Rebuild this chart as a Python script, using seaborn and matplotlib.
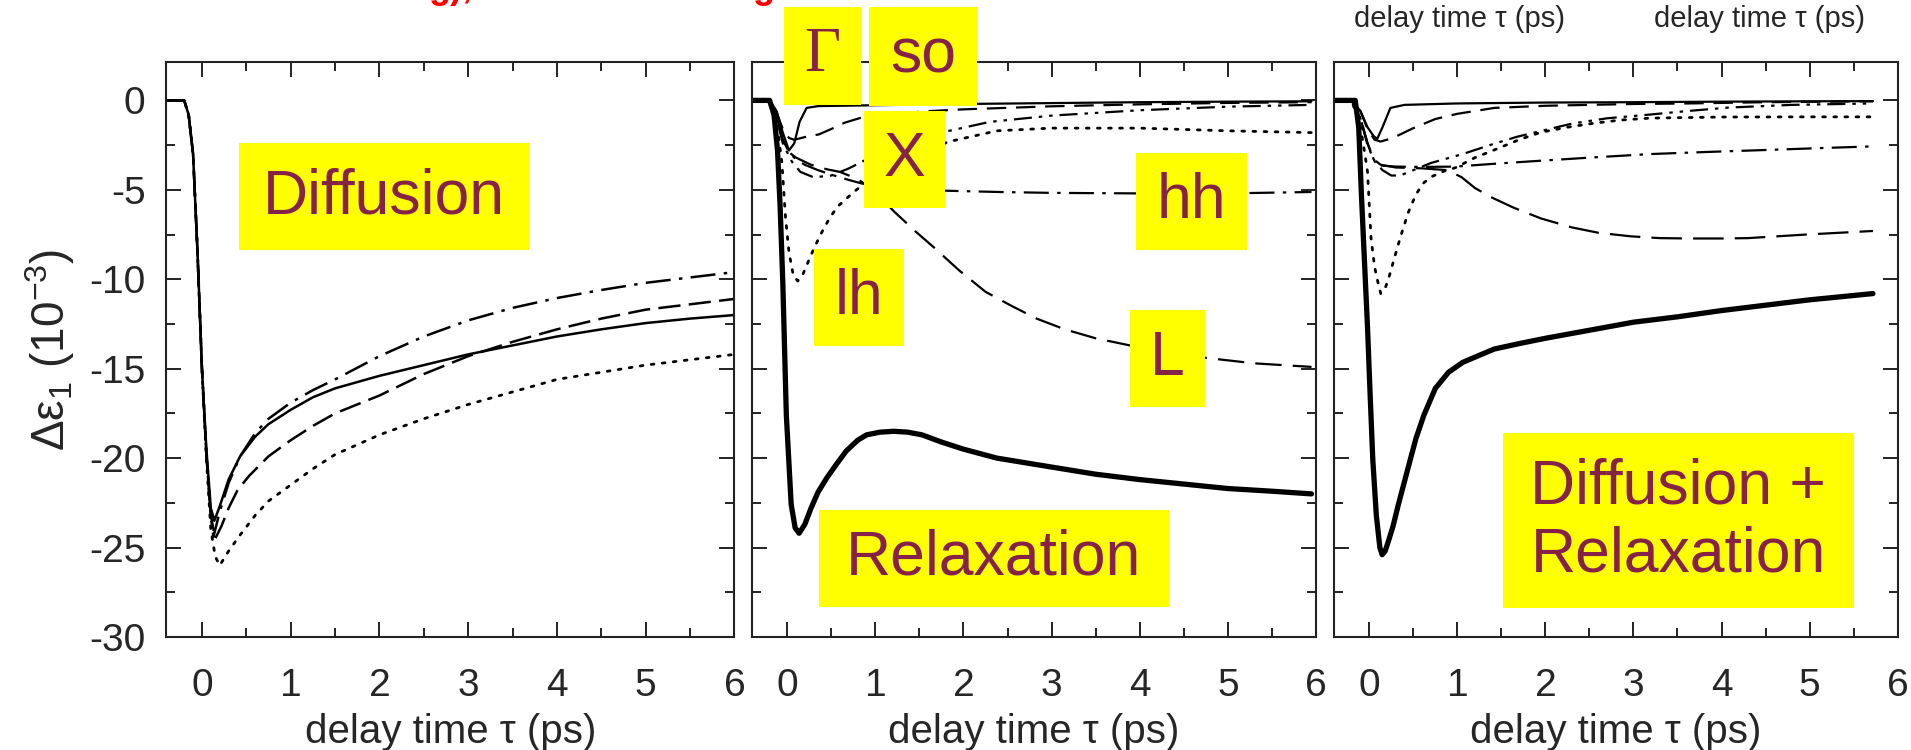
import matplotlib
matplotlib.use("Agg")
import matplotlib.pyplot as plt
import seaborn as sns
from matplotlib.patches import Rectangle
from matplotlib.ticker import MultipleLocator

# ---------------- data ----------------
XLIM = (-0.4, 6.0)
YLIM = (-30.0, 2.15)
x_ticks = [0, 1, 2, 3, 4, 5, 6]
y_ticks = [0, -5, -10, -15, -20, -25, -30]

# Panel 1: Diffusion
p1_solid_x = [-0.4, -0.2, -0.15, -0.1, -0.05, 0.0, 0.05, 0.1, 0.14, 0.2, 0.3, 0.43, 0.6, 0.75, 1.0, 1.25, 1.5, 2.0, 2.5, 3.0, 3.5, 4.0, 4.5, 5.0, 5.5, 6.0]
p1_solid_y = [0, 0, -0.8, -3.0, -8.5, -15.0, -19.5, -22.8, -23.5, -22.7, -21.2, -19.9, -18.8, -18.1, -17.3, -16.6, -16.1, -15.4, -14.8, -14.2, -13.7, -13.2, -12.8, -12.45, -12.2, -12.0]
p1_dash_x = [-0.4, -0.2, -0.15, -0.1, -0.05, 0.0, 0.05, 0.1, 0.15, 0.22, 0.3, 0.4, 0.53, 0.75, 1.0, 1.25, 1.5, 2.0, 2.5, 3.0, 3.5, 4.0, 4.5, 5.0, 5.5, 6.0]
p1_dash_y = [0, 0, -0.8, -3.0, -8.5, -15.0, -19.8, -23.2, -24.5, -23.8, -22.8, -21.8, -21.0, -19.9, -19.0, -18.2, -17.5, -16.5, -15.3, -14.3, -13.5, -12.8, -12.2, -11.7, -11.4, -11.1]
p1_dashdot_x = [-0.4, -0.2, -0.15, -0.1, -0.05, 0.0, 0.05, 0.1, 0.13, 0.2, 0.3, 0.43, 0.6, 0.75, 1.0, 1.25, 1.5, 2.0, 2.5, 3.0, 3.5, 4.0, 4.5, 5.0, 5.5, 6.0]
p1_dashdot_y = [0, 0, -0.8, -3.0, -8.5, -15.0, -19.8, -23.3, -24.4, -23.0, -21.4, -19.9, -18.6, -17.8, -16.9, -16.2, -15.6, -14.3, -13.2, -12.3, -11.6, -11.05, -10.6, -10.2, -9.9, -9.6]
p1_dot_x = [-0.4, -0.2, -0.15, -0.1, -0.05, 0.0, 0.05, 0.1, 0.15, 0.2, 0.3, 0.43, 0.6, 0.75, 1.0, 1.25, 1.5, 2.0, 2.5, 3.0, 3.5, 4.0, 4.5, 5.0, 5.5, 6.0]
p1_dot_y = [0, 0, -0.8, -3.0, -8.5, -15.0, -20.0, -24.0, -25.5, -26.0, -25.2, -24.3, -23.2, -22.4, -21.5, -20.6, -19.8, -18.7, -17.8, -17.0, -16.3, -15.6, -15.2, -14.8, -14.5, -14.2]

# Panel 2: Relaxation
p2_total_x = [-0.4, -0.2, -0.15, -0.11, -0.08, -0.05, -0.01, 0.045, 0.09, 0.135, 0.2, 0.27, 0.35, 0.45, 0.55, 0.67, 0.8, 0.9, 1.05, 1.21, 1.37, 1.53, 1.75, 2.0, 2.38, 3.0, 3.5, 4.0, 4.5, 5.0, 5.5, 5.95]
p2_total_y = [0, 0, -0.8, -2.8, -6.0, -10.2, -17.6, -22.6, -23.9, -24.2, -23.7, -22.8, -21.9, -21.1, -20.4, -19.6, -19.0, -18.7, -18.55, -18.5, -18.55, -18.7, -19.1, -19.5, -20.0, -20.5, -20.9, -21.2, -21.45, -21.7, -21.85, -22.0]
p2_gamma_x = [-0.4, -0.2, -0.12, -0.05, 0.02, 0.08, 0.14, 0.22, 0.35, 0.6, 1.0, 2.0, 3.0, 4.0, 5.0, 5.95]
p2_gamma_y = [0, 0, -0.6, -1.8, -2.8, -2.4, -1.2, -0.42, -0.32, -0.3, -0.27, -0.2, -0.15, -0.1, -0.07, -0.05]
p2_so_x = [-0.4, -0.2, -0.12, -0.05, 0.02, 0.08, 0.2, 0.36, 0.5, 0.65, 0.85, 1.2, 1.6, 2.0, 3.0, 4.0, 5.0, 5.95]
p2_so_y = [0, 0, -0.7, -1.6, -2.1, -2.2, -2.05, -1.9, -1.6, -1.25, -0.95, -0.75, -0.6, -0.5, -0.33, -0.22, -0.14, -0.1]
p2_x_x = [-0.4, -0.2, -0.12, -0.05, 0.05, 0.15, 0.3, 0.5, 0.7, 0.9, 1.2, 1.5, 1.84, 2.3, 3.0, 4.0, 5.0, 5.95]
p2_x_y = [0, 0, -1.0, -2.4, -3.4, -4.0, -4.3, -4.2, -3.8, -3.3, -2.6, -2.1, -1.7, -1.2, -0.85, -0.55, -0.35, -0.25]
p2_lh_x = [-0.4, -0.2, -0.12, -0.06, -0.02, 0.02, 0.07, 0.12, 0.18, 0.24, 0.31, 0.4, 0.49, 0.58, 0.67, 0.76, 0.85, 1.2, 1.5, 1.84, 2.38, 3.0, 4.0, 5.0, 5.95]
p2_lh_y = [0, 0, -1.2, -3.5, -6.5, -8.5, -9.8, -10.1, -9.7, -9.0, -8.2, -7.3, -6.5, -5.9, -5.5, -5.1, -4.75, -3.6, -2.9, -2.3, -1.7, -1.55, -1.55, -1.7, -1.8]
p2_hh_x = [-0.4, -0.2, -0.12, -0.05, 0.02, 0.1, 0.2, 0.35, 0.5, 0.7, 0.85, 1.2, 1.8, 2.4, 3.0, 4.0, 5.0, 5.95]
p2_hh_y = [0, 0, -0.9, -2.2, -2.9, -3.3, -3.6, -3.9, -4.15, -4.45, -4.65, -4.9, -5.05, -5.12, -5.17, -5.2, -5.2, -5.12]
p2_L_x = [-0.4, -0.2, -0.12, -0.05, 0.02, 0.1, 0.27, 0.45, 0.6, 0.8, 1.0, 1.21, 1.45, 1.66, 1.95, 2.25, 2.55, 2.83, 3.15, 3.5, 3.89, 4.3, 4.76, 5.3, 5.95]
p2_L_y = [0, 0, -0.9, -2.2, -2.9, -3.2, -3.6, -3.85, -4.0, -4.4, -5.1, -6.2, -7.3, -8.2, -9.5, -10.7, -11.5, -12.2, -12.8, -13.3, -13.7, -14.05, -14.4, -14.7, -14.9]

# Panel 3: Diffusion + Relaxation
p3_total_x = [-0.4, -0.16, -0.12, -0.09, -0.05, -0.02, 0.01, 0.04, 0.08, 0.12, 0.146, 0.18, 0.22, 0.27, 0.33, 0.4, 0.47, 0.53, 0.62, 0.75, 0.9, 1.06, 1.25, 1.42, 1.7, 2.0, 2.5, 3.0, 3.5, 4.0, 4.5, 5.0, 5.72]
p3_total_y = [0, 0, -1.5, -5.2, -9.5, -12.7, -16.5, -20.1, -23.2, -25.0, -25.4, -25.2, -24.6, -23.8, -22.6, -21.3, -20.0, -18.9, -17.6, -16.1, -15.2, -14.65, -14.25, -13.9, -13.6, -13.3, -12.85, -12.4, -12.1, -11.75, -11.45, -11.15, -10.8]
p3_gamma_x = [-0.4, -0.2, -0.1, -0.02, 0.05, 0.09, 0.15, 0.24, 0.4, 1.0, 2.0, 3.0, 4.0, 5.0, 5.72]
p3_gamma_y = [0, 0, -0.6, -1.5, -2.0, -2.15, -1.5, -0.42, -0.25, -0.17, -0.12, -0.1, -0.07, -0.05, -0.04]
p3_so_x = [-0.4, -0.2, -0.1, -0.02, 0.06, 0.13, 0.2, 0.31, 0.5, 0.75, 1.0, 1.42, 2.0, 3.0, 3.63, 4.5, 5.72]
p3_so_y = [0, 0, -0.6, -1.6, -2.2, -2.3, -2.2, -2.0, -1.55, -1.04, -0.75, -0.42, -0.3, -0.2, -0.17, -0.1, -0.05]
p3_x_x = [-0.4, -0.2, -0.1, -0.02, 0.06, 0.15, 0.25, 0.35, 0.5, 0.7, 1.06, 1.4, 1.68, 2.0, 2.3, 2.7, 3.19, 3.6, 4.08, 4.8, 5.72]
p3_x_y = [0, 0, -1.0, -2.5, -3.4, -3.9, -4.2, -4.2, -3.9, -3.5, -3.0, -2.45, -2.03, -1.65, -1.3, -1.0, -0.79, -0.6, -0.4, -0.25, -0.17]
p3_lh_x = [-0.4, -0.2, -0.1, -0.05, -0.02, 0.02, 0.06, 0.09, 0.13, 0.18, 0.22, 0.28, 0.35, 0.44, 0.53, 0.62, 0.71, 0.85, 0.98, 1.2, 1.42, 1.7, 1.95, 2.25, 2.53, 2.85, 3.19, 4.0, 5.0, 5.72]
p3_lh_y = [0, 0, -1.5, -3.0, -4.0, -7.7, -9.3, -10.0, -10.8, -10.5, -9.95, -8.9, -7.7, -6.3, -5.25, -4.6, -4.26, -3.95, -3.76, -3.2, -2.77, -2.2, -1.78, -1.5, -1.29, -1.1, -0.99, -0.93, -0.92, -0.92]
p3_hh_x = [-0.4, -0.2, -0.1, -0.02, 0.05, 0.13, 0.3, 0.6, 0.98, 1.4, 1.86, 2.5, 3.19, 3.85, 4.52, 5.1, 5.72]
p3_hh_y = [0, 0, -1.0, -2.4, -3.3, -3.64, -3.7, -3.72, -3.7, -3.55, -3.4, -3.2, -3.0, -2.88, -2.77, -2.67, -2.57]
p3_L_x = [-0.4, -0.2, -0.1, -0.02, 0.05, 0.13, 0.3, 0.6, 0.89, 1.05, 1.2, 1.4, 1.64, 1.95, 2.3, 2.6, 2.97, 3.3, 3.63, 4.0, 4.3, 4.96, 5.72]
p3_L_y = [0, 0, -1.0, -2.4, -3.3, -3.6, -3.75, -3.8, -3.9, -4.3, -4.9, -5.45, -6.0, -6.6, -7.1, -7.4, -7.6, -7.7, -7.72, -7.72, -7.7, -7.5, -7.3]

# Annotation labels: (text, x0, x1, y0, y1) in data units of each panel
p1_labels = [("Diffusion", 0.42, 3.68, -8.39, -2.36)]
p2_labels = [("Γ", -0.04, 0.84, -0.28, 5.25), ("so", 0.93, 2.15, -0.30, 5.25),
             ("X", 0.87, 1.79, -5.99, -0.59), ("hh", 3.96, 5.22, -8.34, -2.92),
             ("lh", 0.30, 1.32, -13.71, -8.29), ("L", 3.89, 4.74, -17.13, -11.73),
             ("Relaxation", 0.355, 4.33, -28.3, -22.9)]
p3_labels = [("Diffusion +\nRelaxation", 1.52, 5.50, -28.4, -18.6)]

xlabel_text = "delay time τ (ps)"
ylabel_text = r"$\mathrm{\Delta\varepsilon_1}$ (10$^{\mathrm{-3}}$)"

# ---------------- styling ----------------
sns.set_style("ticks")
plt.rcParams["font.family"] = ["Liberation Sans", "DejaVu Sans"]
plt.rcParams["axes.unicode_minus"] = False
plt.rcParams["lines.scale_dashes"] = False
plt.rcParams["mathtext.fontset"] = "custom"
plt.rcParams["mathtext.rm"] = "Liberation Sans"
plt.rcParams["mathtext.it"] = "Liberation Sans:italic"
plt.rcParams["mathtext.bf"] = "Liberation Sans:bold"

YELLOW = "#FFFF00"
MAROON = "#862248"

SOLID = "-"
LONGDASH = (0, (19, 8))
MEDDASH = (0, (14, 7))
DASHDOT = (0, (18, 6, 2.5, 6))
DASHDOTDOT = (0, (13, 5, 2.5, 5, 2.5, 5))
DOTTED = (0, (2, 6))

fig = plt.figure(figsize=(19.11, 7.5), dpi=100)
bottom, height = 0.1507, 0.7667
axes = [fig.add_axes([0.0871, bottom, 0.2972, height]),
        fig.add_axes([0.3935, bottom, 0.2951, height]),
        fig.add_axes([0.6981, bottom, 0.2949, height])]


def draw(ax, x, y, ls, lw=1.6):
    sns.lineplot(x=x, y=y, ax=ax, color="black", linewidth=lw, linestyle=ls,
                 estimator=None, sort=False, errorbar=None,
                 dash_capstyle="round" if ls == DOTTED else "butt")


def label_boxes(ax, labels):
    for text, x0, x1, y0, y1 in labels:
        ax.add_patch(Rectangle((x0, y0), x1 - x0, y1 - y0, facecolor=YELLOW,
                               edgecolor="none", zorder=5, clip_on=False))
        fam = ["Liberation Serif", "DejaVu Serif"] if text == "Γ" else ["Liberation Sans", "DejaVu Sans"]
        ax.text((x0 + x1) / 2, (y0 + y1) / 2, text, color=MAROON, fontsize=45,
                family=fam, ha="center", va="center", zorder=6, clip_on=False,
                linespacing=1.2)


# Panel 1
ax = axes[0]
draw(ax, p1_dashdot_x, p1_dashdot_y, DASHDOT, 1.8)
draw(ax, p1_dash_x, p1_dash_y, (0, (16, 6)), 1.8)
draw(ax, p1_dot_x, p1_dot_y, DOTTED, 2.0)
draw(ax, p1_solid_x, p1_solid_y, SOLID, 1.8)
label_boxes(ax, p1_labels)

# Panel 2
ax = axes[1]
draw(ax, p2_gamma_x, p2_gamma_y, SOLID, 1.6)
draw(ax, p2_so_x, p2_so_y, MEDDASH, 1.6)
draw(ax, p2_x_x, p2_x_y, DASHDOTDOT, 1.6)
draw(ax, p2_lh_x, p2_lh_y, DOTTED, 2.0)
draw(ax, p2_hh_x, p2_hh_y, DASHDOT, 1.6)
draw(ax, p2_L_x, p2_L_y, LONGDASH, 1.6)
draw(ax, p2_total_x, p2_total_y, SOLID, 3.8)
label_boxes(ax, p2_labels)

# Panel 3
ax = axes[2]
draw(ax, p3_gamma_x, p3_gamma_y, SOLID, 1.6)
draw(ax, p3_so_x, p3_so_y, MEDDASH, 1.6)
draw(ax, p3_x_x, p3_x_y, DASHDOTDOT, 1.6)
draw(ax, p3_lh_x, p3_lh_y, DOTTED, 2.0)
draw(ax, p3_hh_x, p3_hh_y, DASHDOT, 1.6)
draw(ax, p3_L_x, p3_L_y, (0, (22, 8)), 1.6)
draw(ax, p3_total_x, p3_total_y, SOLID, 3.8)
label_boxes(ax, p3_labels)

for i, ax in enumerate(axes):
    ax.set_xlim(*XLIM)
    ax.set_ylim(*YLIM)
    ax.set_xticks(x_ticks)
    ax.set_yticks(y_ticks)
    ax.xaxis.set_minor_locator(MultipleLocator(0.5))
    ax.yaxis.set_minor_locator(MultipleLocator(2.5))
    ax.tick_params(which="both", direction="in", top=True, right=True,
                   color="#222222", width=1.4)
    ax.tick_params(which="major", length=11)
    ax.tick_params(which="minor", length=6.5)
    ax.tick_params(axis="x", which="major", labelsize=28, pad=22)
    ax.tick_params(axis="y", which="major", labelsize=28, pad=15)
    for sp in ax.spines.values():
        sp.set_linewidth(1.5)
        sp.set_color("#222222")
        sp.set_visible(True)
    ax.set_xlabel(xlabel_text, fontsize=29, labelpad=7)
    if i == 0:
        ax.set_ylabel(ylabel_text, fontsize=33, labelpad=9)
    else:
        ax.set_ylabel("")
        ax.tick_params(axis="y", labelleft=False)
    ax.set_facecolor("white")

# Fragments of surrounding content visible at the top of the crop
fig.text(1460 / 1911, 1 - 19 / 750, xlabel_text, fontsize=21, ha="center", va="center")
fig.text(1759 / 1911, 1 - 19 / 750, xlabel_text, fontsize=21, ha="center", va="center")
fig.text(473 / 1911, 1 + 2 / 750, "g),", fontsize=26, color="red", weight="bold",
         ha="right", va="baseline")
fig.text(752 / 1911, 1 + 2 / 750, "g", fontsize=26, color="red", weight="bold",
         ha="left", va="baseline")

fig.savefig("out.png", dpi=100)
